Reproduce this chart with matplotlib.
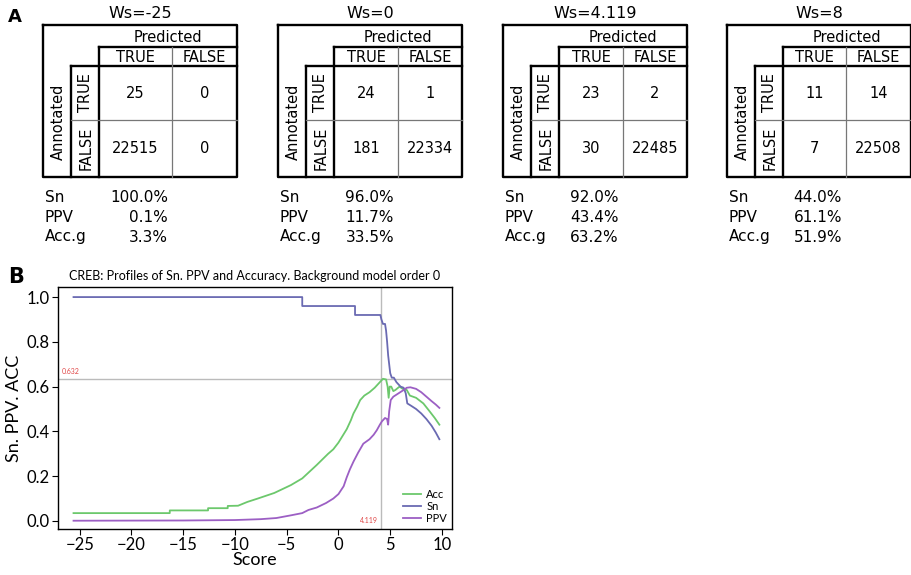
import matplotlib
matplotlib.use("Agg")
import matplotlib.pyplot as plt

# ---------------- data ----------------
ws_labels = ["Ws=-25", "Ws=0", "Ws=4.119", "Ws=8"]
tp = [25, 24, 23, 11]
fn = [0, 1, 2, 14]
fp = [22515, 181, 30, 7]
tn = [0, 22334, 22485, 22508]
sn_txt = ["100.0%", "96.0%", "92.0%", "44.0%"]
ppv_txt = ["0.1%", "11.7%", "43.4%", "61.1%"]
acc_txt = ["3.3%", "33.5%", "63.2%", "51.9%"]
stat_names = ["Sn", "PPV", "Acc.g"]

sn_x = [-25.6, -3.5, -3.5, 1.6, 1.6, 4.05, 4.15, 4.3, 4.5, 4.6, 4.7, 4.8, 4.9, 5.0, 5.15, 5.35,
        5.6, 6.0, 6.3, 6.5, 6.65, 7.0, 7.5, 8.0, 8.5, 9.0, 9.4, 9.75]
sn_y = [1.0, 1.0, 0.96, 0.96, 0.92, 0.92, 0.90, 0.88, 0.88, 0.85, 0.80, 0.74, 0.70, 0.66, 0.64, 0.64,
        0.62, 0.60, 0.595, 0.57, 0.525, 0.515, 0.50, 0.48, 0.455, 0.425, 0.395, 0.365]

acc_x = [-25.6, -16.3, -16.3, -12.6, -12.6, -10.7, -10.7, -9.7, -8.8, -7.8, -6.2, -4.6, -3.5, -2.1,
         -1.0, -0.5, 0.0, 0.4, 0.8, 1.2, 1.45, 1.8, 2.1, 2.5, 3.0, 3.5, 4.0, 4.3, 4.6, 4.75, 4.85,
         4.95, 5.1, 5.3, 5.5, 5.9, 6.2, 6.6, 6.9, 7.5, 8.2, 8.8, 9.3, 9.75]
acc_y = [0.035, 0.035, 0.047, 0.047, 0.057, 0.057, 0.067, 0.068, 0.085, 0.10, 0.125, 0.16, 0.19, 0.25,
         0.30, 0.32, 0.35, 0.38, 0.41, 0.45, 0.48, 0.51, 0.54, 0.56, 0.575, 0.595, 0.62, 0.635, 0.632,
         0.60, 0.55, 0.60, 0.60, 0.58, 0.585, 0.60, 0.59, 0.585, 0.56, 0.55, 0.525, 0.49, 0.46, 0.43]

ppv_x = [-25.6, -15, -10, -7.5, -6, -4.6, -3.5, -2.9, -2.1, -1.2, -0.5, 0.0, 0.5, 0.8, 1.1, 1.45,
         1.9, 2.4, 3.0, 3.4, 3.7, 4.0, 4.2, 4.5, 4.7, 4.8, 4.9, 5.05, 5.3, 5.8, 6.3, 6.6, 6.95, 7.5,
         8.0, 8.5, 9.0, 9.4, 9.75]
ppv_y = [0.001, 0.002, 0.004, 0.008, 0.013, 0.025, 0.035, 0.049, 0.06, 0.08, 0.10, 0.12, 0.155, 0.195,
         0.23, 0.265, 0.305, 0.345, 0.365, 0.385, 0.405, 0.43, 0.445, 0.46, 0.455, 0.43, 0.49, 0.54,
         0.555, 0.57, 0.585, 0.595, 0.597, 0.59, 0.575, 0.555, 0.535, 0.52, 0.505]

best_score = 4.119
best_acc = 0.632

# ---------------- figure ----------------
fig = plt.figure(figsize=(9.12, 5.75), dpi=100)
ov = fig.add_axes([0, 0, 1, 1])
ov.set_xlim(0, 912)
ov.set_ylim(575, 0)
ov.axis("off")

tfont = "DejaVu Sans"
lefts = [43, 278, 503, 727]
colT = [73, 64, 64, 63]
colF = [65, 64, 64, 65]
yT, yP, yH, yR, yB = 25, 47, 66, 120, 177
thick = dict(color="black", lw=1.7, solid_capstyle="projecting")
thin = dict(color="#777777", lw=0.9)
fs = 10.5

for i in range(4):
    L = lefts[i]
    x1 = L + 28
    x2 = L + 56
    x3 = x2 + colT[i]
    R = x3 + colF[i]
    ov.plot([L, R, R, L, L], [yT, yT, yB, yB, yT], **thick)
    ov.plot([x2, R], [yP, yP], **thick)
    ov.plot([x1, R], [yH, yH], **thick)
    ov.plot([x1, x1], [yH, yB], **thick)
    ov.plot([x2, x2], [yP, yB], **thick)
    ov.plot([x3, x3], [yP, yB], **thin)
    ov.plot([x1, R], [yR, yR], **thin)
    ov.text((L + R) / 2, 13, ws_labels[i], ha="center", va="center", fontsize=11.5, family=tfont)
    ov.text((x2 + R) / 2, (yT + yP) / 2 + 1, "Predicted", ha="center", va="center", fontsize=fs, family=tfont)
    ov.text((x2 + x3) / 2, (yP + yH) / 2 + 1, "TRUE", ha="center", va="center", fontsize=fs, family=tfont)
    ov.text((x3 + R) / 2, (yP + yH) / 2 + 1, "FALSE", ha="center", va="center", fontsize=fs, family=tfont)
    ov.text((L + x1) / 2 + 1, (yH + yB) / 2, "Annotated", ha="center", va="center", rotation=90,
            fontsize=fs, family=tfont)
    ov.text((x1 + x2) / 2 + 1, (yH + yR) / 2, "TRUE", ha="center", va="center", rotation=90,
            fontsize=fs, family=tfont)
    ov.text((x1 + x2) / 2 + 1, (yR + yB) / 2, "FALSE", ha="center", va="center", rotation=90,
            fontsize=fs, family=tfont)
    cells = [[tp[i], fn[i]], [fp[i], tn[i]]]
    for r, (ya, yb) in enumerate([(yH, yR), (yR, yB)]):
        for c, (xa, xb) in enumerate([(x2, x3), (x3, R)]):
            ov.text((xa + xb) / 2, (ya + yb) / 2, str(cells[r][c]), ha="center", va="center",
                    fontsize=fs, family=tfont)
    vals = [sn_txt[i], ppv_txt[i], acc_txt[i]]
    for k in range(3):
        yy = 197 + 20 * k
        ov.text(L + 2, yy, stat_names[k], ha="left", va="center", fontsize=11, family=tfont)
        ov.text(x3 - 4, yy, vals[k], ha="right", va="center", fontsize=11, family=tfont)

ov.text(8, 17, "A", ha="left", va="center", fontsize=13, fontweight="bold", family=tfont)
ov.text(8, 277, "B", ha="left", va="center", fontsize=15, fontweight="bold", family=tfont)

# ---------------- panel B ----------------
pf = "Lato"
ax = fig.add_axes([58 / 912, 1 - 529 / 575, (452 - 58) / 912, (529 - 287) / 575])
c_acc = "#6cc86c"
c_sn = "#6a6ab2"
c_ppv = "#9c5fc4"
ax.plot(acc_x, acc_y, color=c_acc, lw=1.3, label="Acc", zorder=3)
ax.plot(sn_x, sn_y, color=c_sn, lw=1.3, label="Sn", zorder=3)
ax.plot(ppv_x, ppv_y, color=c_ppv, lw=1.3, label="PPV", zorder=3)
ax.axhline(best_acc, color="#bbbbbb", lw=1.0, zorder=1)
ax.axvline(best_score, color="#bbbbbb", lw=1.0, zorder=1)
ax.text(-26.7, best_acc + 0.022, f"{best_acc:.3f}", color="#e04848", fontsize=5, family=pf,
        ha="left", va="bottom")
ax.text(best_score - 0.3, 0.0, f"{best_score:.3f}", color="#e04848", fontsize=5, family=pf,
        ha="right", va="center")
ax.set_xlim(-27.1, 10.97)
ax.set_ylim(-0.036, 1.045)
ax.set_xticks([-25, -20, -15, -10, -5, 0, 5, 10])
ax.set_yticks([0.0, 0.2, 0.4, 0.6, 0.8, 1.0])
ax.set_yticklabels(["0.0", "0.2", "0.4", "0.6", "0.8", "1.0"])
ax.tick_params(direction="out", length=4, width=0.8, labelsize=12, pad=2)
for lab in ax.get_xticklabels() + ax.get_yticklabels():
    lab.set_family(pf)
for s in ax.spines.values():
    s.set_linewidth(1.0)
ax.set_xlabel("Score", fontsize=13, family=pf, labelpad=-1)
ax.set_ylabel("Sn. PPV. ACC", fontsize=13, family=pf, labelpad=3)
ax.set_title("CREB: Profiles of Sn. PPV and Accuracy. Background model order 0", fontsize=9,
             family=pf, pad=5)
leg = ax.legend(loc="lower right", frameon=False, handlelength=1.6, handletextpad=0.5,
                labelspacing=0.1, borderaxespad=0.05, prop={"family": pf, "size": 8})

fig.savefig("out.png", dpi=100)
